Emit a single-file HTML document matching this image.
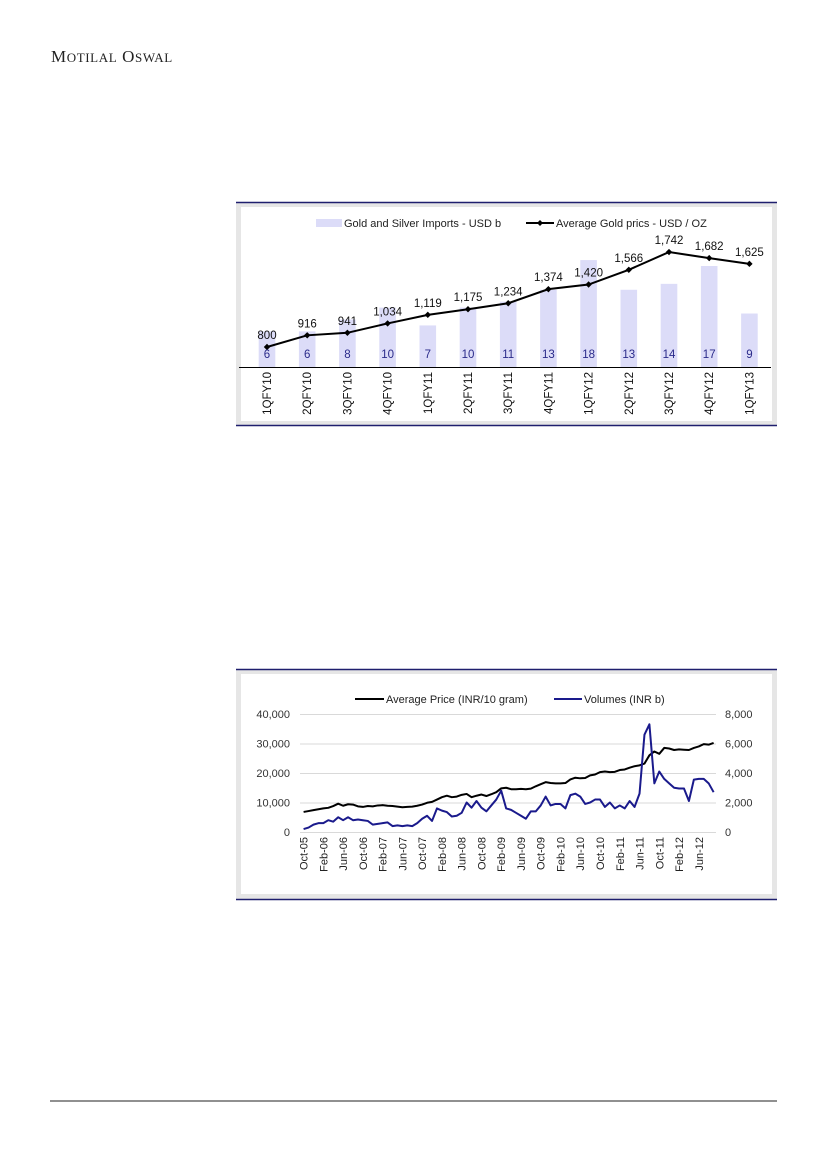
<!DOCTYPE html>
<html><head><meta charset="utf-8"><style>
body{margin:0;background:#fff}
svg{display:block}
text{font-family:"Liberation Sans",sans-serif}
</style></head><body>
<svg width="826" height="1169" viewBox="0 0 826 1169">
<text x="51" y="62" style="font-family:'Liberation Serif',serif" font-size="17" fill="#222" letter-spacing="0.6">M<tspan font-size="13">OTILAL</tspan> O<tspan font-size="13">SWAL</tspan></text>
<line x1="50" y1="1101" x2="777" y2="1101" stroke="#222" stroke-width="1"/>

<g id="c1">
<rect x="236" y="203" width="541" height="222" fill="#e6e6e6"/>
<rect x="241" y="207" width="531" height="214" fill="#fff"/>
<line x1="236" y1="202.5" x2="777" y2="202.5" stroke="#1f1f6e" stroke-width="1.5"/>
<line x1="236" y1="425.5" x2="777" y2="425.5" stroke="#1f1f6e" stroke-width="1.5"/>
<rect x="316" y="219" width="26" height="8" fill="#dcdcf8"/>
<text x="344" y="227" font-size="11" fill="#222">Gold and Silver Imports - USD b</text>
<line x1="526" y1="223" x2="554" y2="223" stroke="#000" stroke-width="2"/>
<path d="M537 223 l3 -3 l3 3 l-3 3z" fill="#000"/>
<text x="556" y="227" font-size="11" fill="#222">Average Gold prics - USD / OZ</text>
<line x1="239" y1="367.5" x2="771" y2="367.5" stroke="#000" stroke-width="1"/>
</g>

<g id="c2">
<rect x="236" y="670" width="541" height="229" fill="#e6e6e6"/>
<rect x="241" y="674" width="531" height="220" fill="#fff"/>
<line x1="236" y1="669.5" x2="777" y2="669.5" stroke="#1f1f6e" stroke-width="1.5"/>
<line x1="236" y1="899.5" x2="777" y2="899.5" stroke="#1f1f6e" stroke-width="1.5"/>
<line x1="355" y1="699" x2="384" y2="699" stroke="#000" stroke-width="2"/>
<text x="386" y="703" font-size="11" fill="#222">Average Price (INR/10 gram)</text>
<line x1="554" y1="699" x2="582" y2="699" stroke="#1a1a8c" stroke-width="2"/>
<text x="584" y="703" font-size="11" fill="#222">Volumes (INR b)</text>
</g>
</svg>
<script>
const NS="http://www.w3.org/2000/svg";
function mk(tag,attrs,parent,txt){const e=document.createElementNS(NS,tag);for(const k in attrs)e.setAttribute(k,attrs[k]);if(txt!==undefined)e.textContent=txt;parent.appendChild(e);return e;}

/* ---------- Chart 1 data ---------- */
const quarters=["1QFY10","2QFY10","3QFY10","4QFY10","1QFY11","2QFY11","3QFY11","4QFY11","1QFY12","2QFY12","3QFY12","4QFY12","1QFY13"];
const importsUSDb=[6,6,8,10,7,10,11,13,18,13,14,17,9];
const goldPriceUSD=[800,916,941,1034,1119,1175,1234,1374,1420,1566,1742,1682,1625];

(function(){
const g=document.getElementById('c1');
const x=i=>267+i*40.2;
const yBar=v=>367-v*5.94;
const yLine=v=>347-(v-800)*0.1008;
quarters.forEach((q,i)=>{
  const b=mk('rect',{x:x(i)-8.3,y:yBar(importsUSDb[i]),width:16.6,height:367-yBar(importsUSDb[i]),fill:'#dcdcf8'},g);
  
  
});
const pts=goldPriceUSD.map((v,i)=>x(i)+','+yLine(v)).join(' ');
const pl=mk('polyline',{points:pts,fill:'none',stroke:'#000','stroke-width':2},g);


goldPriceUSD.forEach((v,i)=>{
  const cx=x(i),cy=yLine(v);
  const m=mk('path',{d:`M${cx} ${cy-3.2} l3.2 3.2 l-3.2 3.2 l-3.2 -3.2z`,fill:'#000'},g);
  
  
  const t=mk('text',{x:cx,y:cy-8,'font-size':11.5,'text-anchor':'middle',fill:'#111'},g,v.toLocaleString('en-US'));
  
  
});
importsUSDb.forEach((v,i)=>{
  const t=mk('text',{x:x(i),y:358,'font-size':11.5,'text-anchor':'middle',fill:'#2a2a8a'},g,String(v));
  
  
});
quarters.forEach((q,i)=>{
  const t=mk('text',{x:0,y:0,'font-size':11.5,'text-anchor':'end',fill:'#111',transform:`translate(${x(i)+4},372) rotate(-90)`},g,q);
  
  
});
})();

/* ---------- Chart 2 data ---------- */
const monthLabels=["Oct-05","Feb-06","Jun-06","Oct-06","Feb-07","Jun-07","Oct-07","Feb-08","Jun-08","Oct-08","Feb-09","Jun-09","Oct-09","Feb-10","Jun-10","Oct-10","Feb-11","Jun-11","Oct-11","Feb-12","Jun-12"];
const leftTicks=[0,10000,20000,30000,40000];
const rightTicks=[0,2000,4000,6000,8000];
const priceINR=[6800,7100,7400,
7700,8000,8200,8800,9600,8900,9400,9300,8700,8500,8800,8700,
9000,9100,8900,8800,8600,8400,8500,8600,8900,9300,9900,10200,
11000,11800,12300,11800,12000,12600,12900,11800,12300,12700,12200,12800,
13500,14800,15000,14500,14500,14600,14500,14700,15500,16200,16900,16600,
16500,16500,16600,17800,18400,18200,18300,19200,19500,20300,20500,20300,
20400,21000,21200,21800,22300,22600,23200,26000,27300,26500,28500,28300,
27800,28000,27900,27800,28500,29000,29800,29600,30200];
const volumeINRb=[200,300,500,
600,600,800,700,1000,800,1000,800,850,800,750,500,
550,600,650,400,450,400,450,400,600,900,1100,750,
1600,1450,1350,1050,1100,1300,2000,1650,2100,1650,1400,1800,
2200,2800,1600,1500,1300,1100,900,1400,1400,1800,2400,1800,
1900,1900,1600,2500,2600,2400,1900,2000,2200,2200,1700,2000,
1600,1800,1600,2100,1700,2600,6600,7300,3300,4100,3600,3300,
3000,2950,2950,2100,3550,3600,3600,3300,2700];

(function(){
const g=document.getElementById('c2');
const x=i=>303.6+i*4.94;
const yL=v=>832-v*(118/40000);
const yR=v=>832-v*(118/8000);
leftTicks.forEach(v=>{
  if(v>0){const l=mk('line',{x1:300,x2:716,y1:yL(v)+0.5,y2:yL(v)+0.5,stroke:'#d9d9d9','stroke-width':1},g);
  
  }
  const t=mk('text',{x:290,y:yL(v)+4,'font-size':11,'text-anchor':'end',fill:'#333'},g,v.toLocaleString('en-US'));
  
  
});
rightTicks.forEach(v=>{
  const t=mk('text',{x:725,y:yR(v)+4,'font-size':11,fill:'#333'},g,v.toLocaleString('en-US'));
  
  
});
const ax=mk('line',{x1:300,x2:716,y1:832.5,y2:832.5,stroke:'#d9d9d9','stroke-width':1},g);


monthLabels.forEach((m,k)=>{
  const t=mk('text',{x:0,y:0,'font-size':11,'text-anchor':'end',fill:'#222',transform:`translate(${x(k*4)+4},837) rotate(-90)`},g,m);
  
  
});
const pp=mk('polyline',{points:priceINR.map((v,i)=>x(i)+','+yL(v)).join(' '),fill:'none',stroke:'#000','stroke-width':2,'stroke-linejoin':'round'},g);


const vp=mk('polyline',{points:volumeINRb.map((v,i)=>x(i)+','+yR(v)).join(' '),fill:'none',stroke:'#1a1a8c','stroke-width':2,'stroke-linejoin':'round'},g);


})();
</script>
</body></html>
